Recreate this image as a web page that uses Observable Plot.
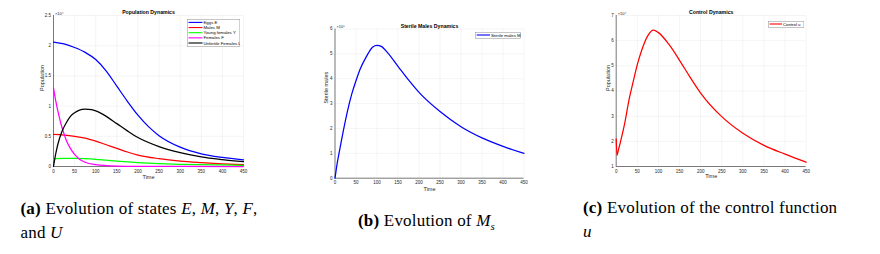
<!DOCTYPE html>
<html><head><meta charset="utf-8">
<script src="https://cdn.jsdelivr.net/npm/d3@7"></script>
<script src="https://cdn.jsdelivr.net/npm/@observablehq/plot@0.6"></script>
<style>
body{margin:0;width:880px;height:254px;position:relative;background:#fff;overflow:hidden;font-family:"Liberation Sans",Arial,sans-serif}
.panel{position:absolute}
.cap{position:absolute;font-family:"Liberation Serif","Times New Roman","DejaVu Serif",serif;font-size:17px;letter-spacing:0.2px;line-height:24px;color:#000;white-space:nowrap}
.cap b{font-weight:bold}
</style></head><body>
<script>
// ---------- data (values in units of the axis exponent) ----------
const xTicks = [0,50,100,150,200,250,300,350,400,450];

// Panel (a): x 10^4
const yTicksA = [0,0.5,1,1.5,2,2.5];
const tE = [0,25,50,75,100,125,150,175,200,225,250,300,350,400,450];
const vE = [2.06,2.03,1.97,1.89,1.77,1.58,1.33,1.08,0.85,0.66,0.51,0.32,0.21,0.15,0.11];
const tM = [0,25,50,75,100,125,150,175,200,250,300,350,400,450];
const vM = [0.53,0.52,0.50,0.47,0.42,0.36,0.30,0.24,0.19,0.13,0.09,0.065,0.045,0.03];
const tY = [0,5,25,50,75,100,125,150,200,250,300,350,400,450];
const vY = [0.11,0.13,0.135,0.135,0.13,0.12,0.105,0.09,0.065,0.048,0.037,0.03,0.025,0.02];
const tF = [0,5,10,15,20,25,30,40,50,60,75,100,125,150,200,300,450];
const vF = [1.30,1.10,0.93,0.78,0.65,0.54,0.44,0.30,0.20,0.13,0.07,0.03,0.015,0.008,0.003,0.001,0];
const tU = [0,5,10,20,30,40,50,60,75,90,100,125,150,175,200,250,300,350,400,450];
const vU = [0,0.2,0.36,0.58,0.72,0.83,0.89,0.93,0.95,0.94,0.92,0.83,0.71,0.59,0.48,0.33,0.23,0.16,0.115,0.08];
const namesA = ["Eggs E","Males M","Young females Y","Females F","Unfertile Females U"];
const colorsA = ["#0000ff","#ff0000","#00ff00","#ff00ff","#000000"];

// Panel (b): x 10^5
const yTicksB = [0,1,2,3,4,5,6];
const tMs = [0,5,10,20,30,40,50,60,75,90,100,110,125,150,175,200,250,300,350,400,450];
const vMs = [0,0.58,1.04,1.92,2.72,3.39,3.92,4.39,4.9,5.28,5.34,5.3,5.05,4.5,3.95,3.45,2.68,2.07,1.62,1.28,1.0];
const namesB = ["Sterile males M"];

// Panel (c): x 10^4
const yTicksC = [1,2,3,4,5,6,7];
const tu = [0,2,5,10,20,30,40,50,60,75,88,100,125,150,175,200,250,300,350,400,450];
const vu = [2.1,1.44,1.64,1.97,2.7,3.62,4.35,5.05,5.6,6.2,6.42,6.32,5.85,5.22,4.55,3.92,2.98,2.32,1.84,1.49,1.17];
const namesC = ["Control u"];

const toRows = (ts, vs, s) => ts.map((t,i) => ({t, v: vs[i], s}));

function panel(cfg){
  const series = cfg.series.flatMap(d => toRows(d.t, d.v, d.name));
  const svg = Plot.plot({
    width: cfg.w, height: cfg.h,
    marginLeft: cfg.ml, marginRight: cfg.mr, marginTop: cfg.mt, marginBottom: cfg.mb,
    style: {fontFamily: '"Liberation Sans", Arial, sans-serif', background: "transparent", color: "#262626", overflow: "visible"},
    x: {domain: [0,450]},
    y: {domain: cfg.yDomain},
    color: {domain: cfg.series.map(d => d.name), range: cfg.series.map(d => d.color)},
    marks: [
      Plot.gridX(xTicks, {stroke: "#000", strokeOpacity: 0.09, strokeWidth: 0.5}),
      Plot.gridY(cfg.yTicks, {stroke: "#000", strokeOpacity: 0.09, strokeWidth: 0.5}),
      Plot.axisX(xTicks, {tickSize: 0, tickPadding: 3, fontSize: 4.5, label: null, tickFormat: d => String(d)}),
      Plot.axisY(cfg.yTicks, {tickSize: 0, tickPadding: 2.5, fontSize: 4.5, label: null, tickFormat: d => String(d)}),
      Plot.ruleX([0], {stroke: "#262626", strokeWidth: 0.6}),
      Plot.ruleY([cfg.yDomain[0]], {stroke: "#262626", strokeWidth: 0.6}),
      Plot.line(series, {x: "t", y: "v", z: "s", stroke: "s", strokeWidth: 1.25, curve: "monotone-x"}),
      Plot.text([cfg.title], {text: d => d, frameAnchor: "top", dy: -1.2, lineAnchor: "bottom", fontWeight: "bold", fontSize: 5.2, fill: "#000"}),
      Plot.text(["Time"], {text: d => d, frameAnchor: "bottom", dy: cfg.xlabDy, lineAnchor: "middle", fontSize: 5.5}),
      Plot.text([cfg.ylabel], {text: d => d, frameAnchor: "left", dx: cfg.ylabDx, rotate: -90, fontSize: 5.5}),
      Plot.text([cfg.exp], {text: d => d, frameAnchor: "top-left", dx: 1.5, dy: -1, lineAnchor: "bottom", textAnchor: "start", fontSize: 4})
    ]
  });
  svg.classList.add("panel");
  svg.style.left = cfg.left + "px";
  svg.style.top = cfg.top + "px";
  document.body.appendChild(svg);
}

function legend(cfg){
  const svg = d3.select(document.body).append("svg")
    .attr("class","panel")
    .style("left", cfg.x + "px").style("top", cfg.y + "px")
    .attr("width", cfg.w + 1).attr("height", cfg.h + 1);
  svg.append("rect").attr("x",0.25).attr("y",0.25).attr("width",cfg.w).attr("height",cfg.h)
    .attr("fill","#fff").attr("stroke","#8c8c8c").attr("stroke-width",0.5);
  cfg.names.forEach((n,i) => {
    const yy = cfg.row0 + i*cfg.dy;
    svg.append("line").attr("x1",cfg.lx0).attr("x2",cfg.lx1).attr("y1",yy).attr("y2",yy)
      .attr("stroke",cfg.colors[i]).attr("stroke-width",1.1);
    svg.append("text").attr("x",cfg.lx1+1).attr("y",yy).attr("dy","0.35em")
      .attr("font-size",4.3).attr("fill","#000").attr("font-family",'"Liberation Sans", Arial, sans-serif').text(n);
  });
}

panel({left: 0, top: 0, w: 290, h: 185, ml: 53, mr: 47, mt: 15, mb: 19,
  yDomain: [0,2.5], yTicks: yTicksA, title: "Population Dynamics", ylabel: "Population", exp: "×10⁴",
  ylabDx: -11.5, xlabDy: 11,
  series: [
    {name: namesA[0], t: tE, v: vE, color: colorsA[0]},
    {name: namesA[1], t: tM, v: vM, color: colorsA[1]},
    {name: namesA[2], t: tY, v: vY, color: colorsA[2]},
    {name: namesA[3], t: tF, v: vF, color: colorsA[3]},
    {name: namesA[4], t: tU, v: vU, color: colorsA[4]}
  ]});
panel({left: 300, top: 0, w: 250, h: 195, ml: 34.5, mr: 26.5, mt: 28.5, mb: 17.3,
  yDomain: [0,6], yTicks: yTicksB, title: "Sterile Males Dynamics", ylabel: "Sterile males", exp: "×10⁵",
  ylabDx: -8.5, xlabDy: 11,
  series: [{name: namesB[0], t: tMs, v: vMs, color: "#0000ff"}]});
panel({left: 580, top: 0, w: 260, h: 185, ml: 35.7, mr: 34.3, mt: 15, mb: 19,
  yDomain: [1,7], yTicks: yTicksC, title: "Control Dynamics", ylabel: "Population", exp: "×10⁴",
  ylabDx: -7.5, xlabDy: 10,
  series: [{name: namesC[0], t: tu, v: vu, color: "#ff0000"}]});

legend({x: 186.7, y: 19.3, w: 52.6, h: 27.4, names: namesA, colors: colorsA, lx0: 1.5, lx1: 15.5, row0: 3.4, dy: 5.15});
legend({x: 475, y: 32.3, w: 45, h: 6, names: namesB, colors: ["#0000ff"], lx0: 1.7, lx1: 15, row0: 3, dy: 5});
legend({x: 767.7, y: 20.7, w: 35.6, h: 6, names: namesC, colors: ["#ff0000"], lx0: 1.6, lx1: 14, row0: 3, dy: 5});
</script>
<div class="cap" style="left:20.5px;top:196.5px"><b>(a)</b> Evolution of states <i>E</i>, <i>M</i>, <i>Y</i>, <i>F</i>,<br>and <i>U</i></div>
<div class="cap" style="left:358px;top:208.5px"><b>(b)</b> Evolution of <i>M<sub style="font-size:11px">s</sub></i></div>
<div class="cap" style="left:583px;top:196px"><b>(c)</b> Evolution of the control function<br><i>u</i></div>
</body></html>
